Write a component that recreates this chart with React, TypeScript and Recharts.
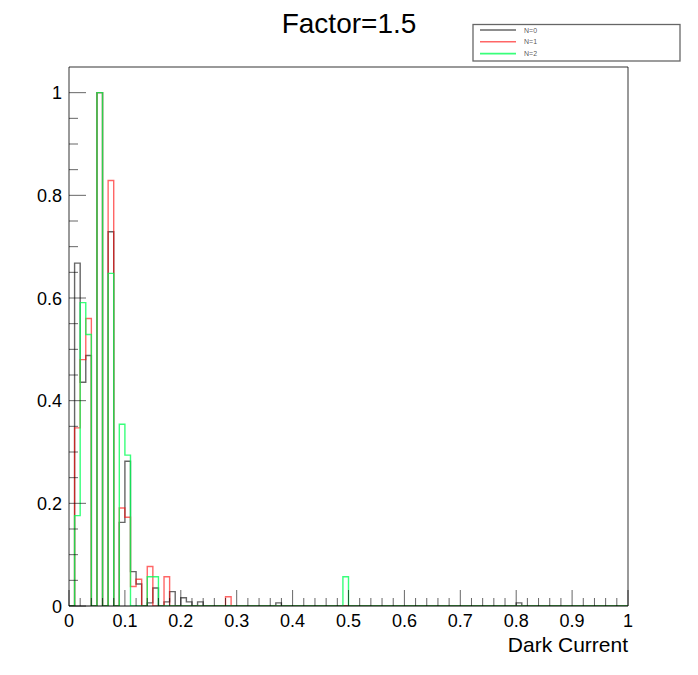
import { LineChart, Line, XAxis, YAxis, ReferenceLine } from 'recharts';

// histogram contents, 100 bins of 0.01 between 0 and 1
const n0 = [
  0, 0.668, 0.436, 0.488, 0, 1.0, 0, 0.729, 0, 0.163,
  0.282, 0.067, 0.043, 0, 0.006, 0.035, 0, 0.008, 0.028, 0,
  0.016, 0.008, 0, 0.008, 0, 0, 0, 0, 0, 0,
  0, 0, 0, 0, 0, 0, 0, 0.006, 0, 0,
  0, 0, 0, 0, 0, 0, 0, 0, 0, 0,
  0, 0, 0, 0, 0, 0, 0, 0, 0, 0,
  0, 0, 0, 0, 0, 0, 0, 0, 0, 0,
  0, 0, 0, 0, 0, 0, 0, 0, 0, 0,
  0.006, 0, 0, 0, 0, 0, 0, 0, 0, 0,
  0, 0, 0, 0, 0, 0, 0, 0, 0, 0,
];
const n1 = [
  0, 0.347, 0.48, 0.56, 0, 1.0, 0, 0.829, 0, 0.191,
  0.173, 0.038, 0.052, 0, 0.077, 0, 0, 0.057, 0, 0,
  0, 0, 0, 0, 0, 0, 0, 0, 0.018, 0,
  0, 0, 0, 0, 0, 0, 0, 0, 0, 0,
  0, 0, 0, 0, 0, 0, 0, 0, 0, 0,
  0, 0, 0, 0, 0, 0, 0, 0, 0, 0,
  0, 0, 0, 0, 0, 0, 0, 0, 0, 0,
  0, 0, 0, 0, 0, 0, 0, 0, 0, 0,
  0, 0, 0, 0, 0, 0, 0, 0, 0, 0,
  0, 0, 0, 0, 0, 0, 0, 0, 0, 0,
];
const n2 = [
  0, 0.176, 0.591, 0.529, 0, 1.0, 0, 0.648, 0, 0.354,
  0.294, 0, 0, 0, 0.057, 0.057, 0, 0, 0, 0,
  0, 0, 0, 0, 0, 0, 0, 0, 0, 0,
  0, 0, 0, 0, 0, 0, 0, 0, 0, 0,
  0, 0, 0, 0, 0, 0, 0, 0, 0, 0.057,
  0, 0, 0, 0, 0, 0, 0, 0, 0, 0,
  0, 0, 0, 0, 0, 0, 0, 0, 0, 0,
  0, 0, 0, 0, 0, 0, 0, 0, 0, 0,
  0, 0, 0, 0, 0, 0, 0, 0, 0, 0,
  0, 0, 0, 0, 0, 0, 0, 0, 0, 0,
];

const binWidth = 0.01;
const xMajor = [0, 0.1, 0.2, 0.3, 0.4, 0.5, 0.6, 0.7, 0.8, 0.9, 1];
const xLabels = ['0', '0.1', '0.2', '0.3', '0.4', '0.5', '0.6', '0.7', '0.8', '0.9', '1'];
const yMajor = [0, 0.2, 0.4, 0.6, 0.8, 1];
const yLabels = ['0', '0.2', '0.4', '0.6', '0.8', '1'];

const series = [
  { key: 'n0', name: 'N=0', color: '#000000', alpha: 0.6 },
  { key: 'n1', name: 'N=1', color: '#ff0000', alpha: 0.6 },
  { key: 'n2', name: 'N=2', color: '#00ff55', alpha: 0.78 },
];

// step points at bin low edges, plus the closing edge at x=1
const data = n0.map((_, i) => ({ x: +(i * binWidth).toFixed(2), n0: n0[i], n1: n1[i], n2: n2[i] }));
data.push({ x: 1, n0: 0, n1: 0, n2: 0 });

// minor ticks: 5 divisions on x, 4 on y
const xTicks: number[] = [];
xMajor.forEach((v, i) => {
  if (i === xMajor.length - 1) { xTicks.push(v); return; }
  for (let k = 0; k < 5; k++) xTicks.push(+(v + k * 0.02).toFixed(2));
});
const yTicks: number[] = [];
yMajor.forEach((v, i) => {
  if (i === yMajor.length - 1) { yTicks.push(v); return; }
  for (let k = 0; k < 4; k++) yTicks.push(+(v + k * 0.05).toFixed(2));
});

const FONT = '"Liberation Sans", Arial, Helvetica, sans-serif';

const XTick = (props: any) => {
  const { x, y, payload } = props;
  const idx = xMajor.findIndex((m) => Math.abs(m - payload.value) < 1e-6);
  const major = idx >= 0;
  return (
    <g>
      <line x1={x} y1={y} x2={x} y2={y - (major ? 16 : 8)} stroke="#000" strokeOpacity={0.6} />
      {major && (
        <text x={x} y={y + 21} textAnchor="middle" fontSize={18} fontFamily={FONT} fill="#000">
          {xLabels[idx]}
        </text>
      )}
    </g>
  );
};

const YTick = (props: any) => {
  const { x, y, payload } = props;
  const idx = yMajor.findIndex((m) => Math.abs(m - payload.value) < 1e-6);
  const major = idx >= 0;
  return (
    <g>
      <line x1={x} y1={y} x2={x + (major ? 17 : 9)} y2={y} stroke="#000" strokeOpacity={0.6} />
      {major && (
        <text x={x - 7} y={y + 6.5} textAnchor="end" fontSize={18} fontFamily={FONT} fill="#000">
          {yLabels[idx]}
        </text>
      )}
    </g>
  );
};

export default function App() {
  return (
    <div style={{ position: 'absolute', left: 0, top: 0, width: 698, height: 675, background: '#fff' }}>
      <LineChart
        width={698}
        height={675}
        data={data}
        margin={{ top: 67, right: 70, bottom: 39, left: 29 }}
      >
        <XAxis
          dataKey="x"
          type="number"
          domain={[0, 1]}
          ticks={xTicks}
          interval={0}
          tickSize={0}
          tickMargin={0}
          tickLine={false}
          height={30}
          tick={<XTick />}
          axisLine={{ stroke: '#000' }}
        />
        <YAxis
          type="number"
          domain={[0, 1.05]}
          ticks={yTicks}
          interval={0}
          tickSize={0}
          tickMargin={0}
          tickLine={false}
          width={40}
          tick={<YTick />}
          axisLine={{ stroke: '#000', strokeOpacity: 0.8 }}
          allowDataOverflow
        />
        <ReferenceLine y={1.05} stroke="#000" strokeOpacity={0.8} />
        <ReferenceLine x={1} stroke="#000" strokeOpacity={0.8} />
        {series.map((s) => (
          <Line
            key={s.key}
            dataKey={s.key}
            name={s.name}
            type="stepAfter"
            stroke={s.color}
            strokeOpacity={s.alpha}
            strokeWidth={1.4}
            dot={false}
            activeDot={false}
            isAnimationActive={false}
          />
        ))}
      </LineChart>
      <svg
        width={698}
        height={675}
        style={{ position: 'absolute', left: 0, top: 0, pointerEvents: 'none' }}
      >
        <text x={349} y={33} textAnchor="middle" fontSize={28} fontFamily={FONT} fill="#000">
          Factor=1.5
        </text>
        <text x={628} y={652} textAnchor="end" fontSize={21} fontFamily={FONT} fill="#000">
          Dark Current
        </text>
        <rect x={473} y={24.5} width={207} height={36.5} fill="#fff" stroke="#000" strokeOpacity={0.6} strokeWidth={1.3} />
        {series.map((s, i) => (
          <g key={s.key}>
            <line x1={480} x2={516} y1={30 + i * 11.8} y2={30 + i * 11.8} stroke={s.color} strokeOpacity={s.alpha} strokeWidth={1.6} />
            <text x={524} y={32.5 + i * 11.8} fontSize={7} fontFamily={FONT} fill="#000" fillOpacity={0.7}>
              {s.name}
            </text>
          </g>
        ))}
      </svg>
    </div>
  );
}
